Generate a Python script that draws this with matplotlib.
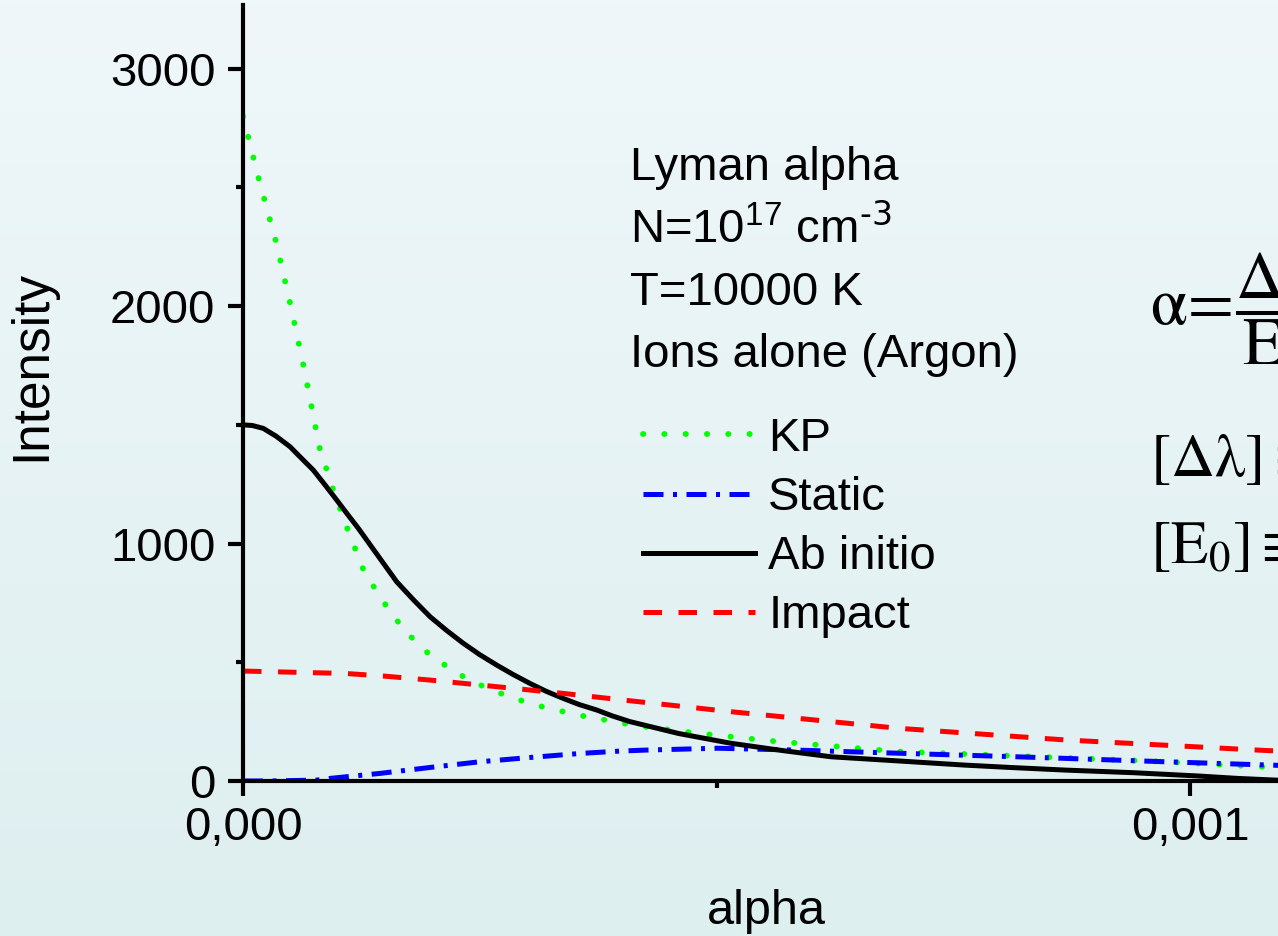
import numpy as np
import matplotlib
matplotlib.use("Agg")
import matplotlib.pyplot as plt

plt.rcParams['font.family'] = ['Liberation Sans', 'DejaVu Sans']
plt.rcParams['mathtext.default'] = 'regular'

# Data (alpha in units of 1e-3)
kp_x = [0, 0.017, 0.035, 0.050, 0.064, 0.081, 0.0954, 0.111, 0.128, 0.142, 0.156,
        0.1735, 0.195, 0.217, 0.239, 0.261, 0.282, 0.304, 0.326, 0.348, 0.369,
        0.391, 0.41, 0.48, 0.565, 0.692, 0.833, 0.974, 1.1]
kp_y = [2800, 2530, 2269, 2008, 1747, 1401, 1225, 1054, 881, 794, 709,
        622, 540, 477, 425, 386, 354, 326, 302, 285, 264,
        253, 236, 201, 166, 124, 103, 81, 55]

static_x = [0, 0.03, 0.078, 0.092, 0.127, 0.1447, 0.1975, 0.25, 0.303, 0.356,
            0.398, 0.4237, 0.501, 0.586, 0.692, 0.833, 0.974, 1.1]
static_y = [0, 0, 4, 11, 25, 32, 57, 81, 99, 116,
            126, 130, 138, 130, 117, 100, 81, 65]

abinitio_x = [0, 0.01, 0.0214, 0.035, 0.0496, 0.06, 0.0743, 0.087, 0.099, 0.11,
              0.1218, 0.145, 0.1623, 0.18, 0.1975, 0.215, 0.2326, 0.25, 0.268,
              0.285, 0.303, 0.32, 0.338, 0.355, 0.3735, 0.39, 0.4087, 0.46,
              0.515, 0.57, 0.621, 0.69, 0.762, 0.81, 0.868, 0.94, 1.009, 1.05, 1.1]
abinitio_y = [1500, 1497, 1485, 1452, 1408, 1366, 1309, 1245, 1183, 1125,
              1064, 935, 839, 763, 692, 634, 580, 532, 488,
              449, 411, 378, 348, 322, 299, 274, 250, 200,
              159, 128, 102, 85, 67, 57, 46, 35, 21, 11, 2]

impact_x = [0, 0.1077, 0.1485, 0.1975, 0.261, 0.338, 0.4016, 0.515, 0.692,
            0.868, 1.0725, 1.1]
impact_y = [463, 453, 442, 425, 400, 369, 341, 292, 222, 173, 130, 125]

W, H = 1278, 936
fig = plt.figure(figsize=(W / 100, H / 100), dpi=100)

# background gradient
bg = fig.add_axes([0, 0, 1, 1], zorder=-10)
top = np.array([239, 247, 250]) / 255
bot = np.array([222, 239, 240]) / 255
t = np.linspace(0, 1, 256)[:, None]
grad = top[None, :] * (1 - t) + bot[None, :] * t
bg.imshow(grad[:, None, :], aspect='auto', extent=[0, 1, 0, 1])
bg.axis('off')

x0, y0, y1 = 243, 781, 5
px_per_unit = 947 / 0.001
xmax = 0.0011
ax = fig.add_axes([x0 / W, 1 - y0 / H, xmax * px_per_unit / W, (y0 - y1) / H])
ax.patch.set_alpha(0)

sc = 1e-3
lw = 3.6
ax.plot(np.array(kp_x) * sc, kp_y, color='#00ff00', lw=4.2,
        linestyle=(0, (0.05, 3.6)), dash_capstyle='round', label='KP')
ax.plot(np.array(static_x) * sc, static_y, color='#0000ff', lw=lw,
        linestyle=(0, (4.0, 1.9, 0.8, 1.9)), label='Static')
ax.plot(np.array(abinitio_x) * sc, abinitio_y, color='black', lw=lw,
        label='Ab initio')
ax.plot(np.array(impact_x) * sc, impact_y, color='#ff0000', lw=lw,
        linestyle=(0, (3.7, 3.3)), label='Impact')

ax.set_xlim(0, xmax)
ax.set_ylim(0, 3268)
for s in ['top', 'right']:
    ax.spines[s].set_visible(False)
for s in ['left', 'bottom']:
    ax.spines[s].set_linewidth(3.0)

ax.set_xticks([0, 0.001])
ax.set_xticklabels(['0,000', '0,001'])
ax.set_xticks([0.0005], minor=True)
ax.set_yticks([0, 1000, 2000, 3000])
ax.set_yticks([500, 1500, 2500], minor=True)
ax.tick_params(which='major', length=10.8, width=3.0, labelsize=34, pad=9)
ax.tick_params(axis='x', which='major', pad=7)
ax.tick_params(which='minor', length=5, width=3.0)

fig.text(32 / W, 1 - 365 / H, 'Intensity', rotation=90, fontsize=37,
         ha='center', va='center')
fig.text(766 / W, 1 - 912 / H, 'alpha', fontsize=35, ha='center', va='center')

info = ['Lyman alpha', r'N=10$^{17}$ cm$^{\text{-3}}$', 'T=10000 K',
        'Ions alone (Argon)']
for i, s in enumerate(info):
    fig.text(630 / W, 1 - (180 + 62.3 * i) / H, s, fontsize=34, va='baseline')

ax.legend(loc='upper left', bbox_to_anchor=(643 / W, 1 - 417 / H),
          bbox_transform=fig.transFigure, frameon=False, fontsize=34,
          handlelength=2.37, handletextpad=0.28, labelspacing=0.32,
          borderpad=0, borderaxespad=0)

fig.text(1150 / W, 1 - 314 / H,
         r'$\mathrm{\alpha\!=\!\dfrac{\Delta\lambda}{E_0}}$',
         fontsize=48, va='center', math_fontfamily='stix')
fig.text(1150 / W, 1 - 476 / H, r'$\mathrm{[\Delta\lambda]\equiv}$',
         fontsize=44, va='baseline', math_fontfamily='stix')
fig.text(1150 / W, 1 - 563 / H, r'$\mathrm{[E_0]\equiv}$', fontsize=44,
         va='baseline', math_fontfamily='stix')

fig.savefig('out.png', dpi=100)
